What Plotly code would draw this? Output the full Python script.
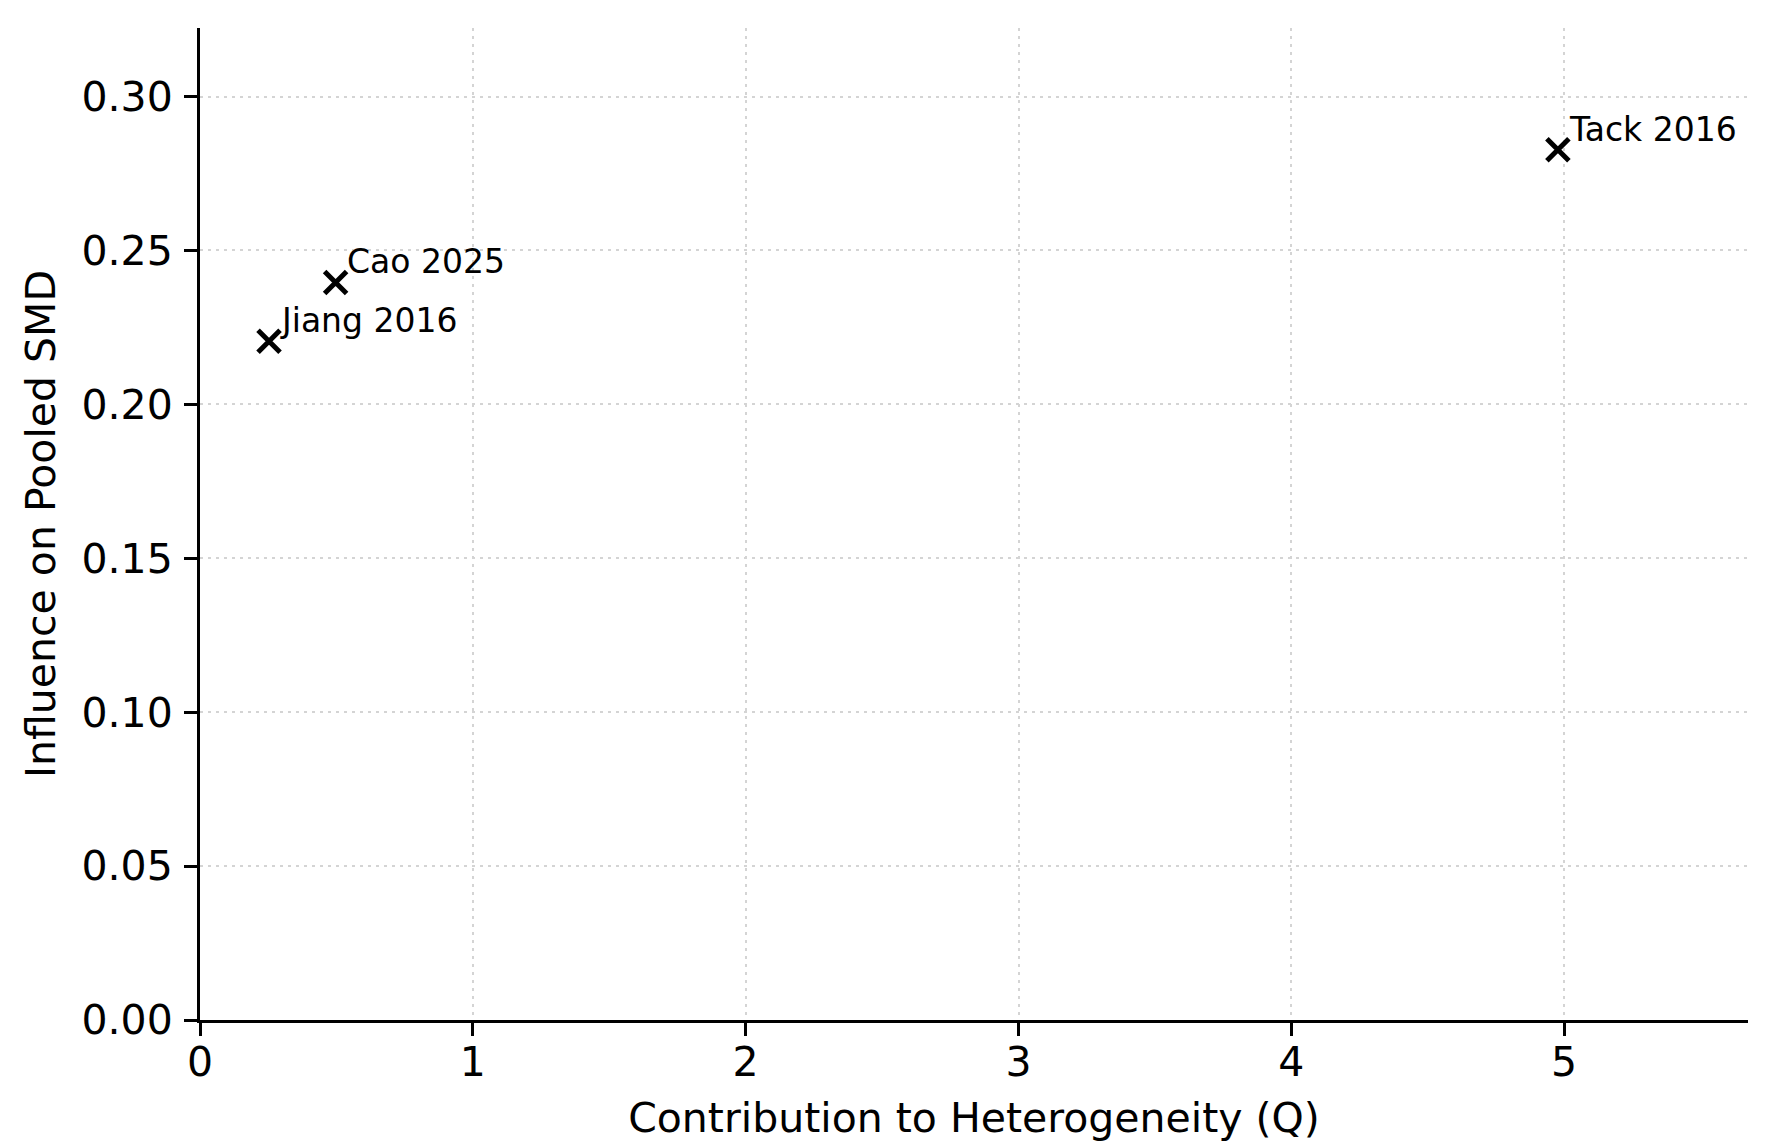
"""
Influence vs heterogeneity contribution (leave-one-out diagnostic)
"""

import plotly.graph_objects as go

# ---------------------------------------------------------------------------
# data
# ---------------------------------------------------------------------------
studies = ["Jiang 2016", "Cao 2025", "Tack 2016"]
q_contrib = [0.253, 0.497, 4.977]
influence = [0.2205, 0.2396, 0.2827]

x_ticks = [0, 1, 2, 3, 4, 5]
y_ticks = [0.00, 0.05, 0.10, 0.15, 0.20, 0.25, 0.30]

FONT = "DejaVu Sans"

fig = go.Figure()

fig.add_trace(go.Scatter(
    x=q_contrib, y=influence,
    mode="markers",
    marker=dict(symbol="x-thin", size=22, color="black",
                line=dict(color="black", width=5)),
    showlegend=False,
    hoverinfo="skip",
))

# study labels, offset up-right of each marker
for name, qx, iy in zip(studies, q_contrib, influence):
    fig.add_annotation(
        x=qx, y=iy, text=name,
        showarrow=False,
        xanchor="left", yanchor="bottom",
        xshift=9, yshift=-1,
        font=dict(family=FONT, size=33, color="black"),
    )

axis_common = dict(
    showline=True, linecolor="black", linewidth=3,
    ticks="outside", ticklen=13, tickwidth=3, tickcolor="black",
    showgrid=True, gridcolor="#d4d4d4", gridwidth=2, griddash="3px,5px",
    zeroline=False,
    tickfont=dict(family=FONT, size=41, color="black"),
    mirror=False,
)

fig.update_xaxes(
    **axis_common,
    range=[0, max(q_contrib) * 1.14],
    tickvals=x_ticks,
    ticktext=[str(v) for v in x_ticks],
    ticklabelstandoff=-9,
    title=dict(text="Contribution to Heterogeneity (Q)",
               font=dict(family=FONT, size=41, color="black"), standoff=19),
)
fig.update_yaxes(
    **axis_common,
    range=[0, max(influence) * 1.14],
    tickvals=y_ticks,
    ticktext=[f"{v:.2f}" for v in y_ticks],
    ticklabelstandoff=3,
    title=dict(text="Influence on Pooled SMD",
               font=dict(family=FONT, size=41, color="black"), standoff=14),
)

fig.update_layout(
    width=1772, height=1144,
    plot_bgcolor="white", paper_bgcolor="white",
    margin=dict(l=192, r=32, t=20, b=132),
    font=dict(family=FONT, color="black"),
)

fig.write_html("out.html")
